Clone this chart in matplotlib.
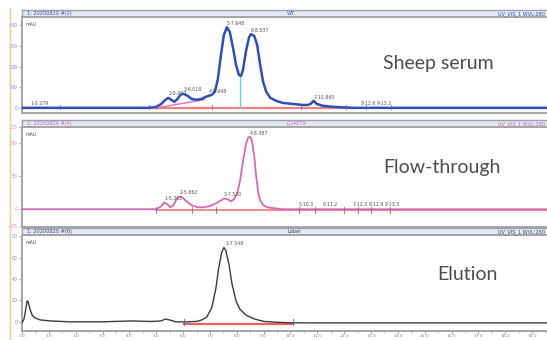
import matplotlib
matplotlib.use("Agg")
import matplotlib.pyplot as plt

# ---- data (time in min, signal in mAU) ----
serum_t = [0.0, 4.74, 5.0, 5.19, 5.34, 5.45, 5.56, 5.68, 5.79, 5.90, 6.02, 6.17, 6.32, 6.50,
           6.69, 6.84, 6.95, 7.07, 7.18, 7.29, 7.41, 7.52, 7.63, 7.74, 7.86, 7.97, 8.08, 8.16,
           8.23, 8.35, 8.46, 8.53, 8.65, 8.76, 8.87, 8.98, 9.10, 9.25, 9.47, 9.70, 10.08, 10.45,
           10.64, 10.75, 10.86, 10.98, 11.20, 11.58, 12.33, 19.74]
serum_v = [0, 0, 5, 19, 39, 48, 39, 29, 43, 63, 68, 58, 43, 39,
           43, 53, 58, 63, 77, 135, 256, 353, 391, 367, 290, 208, 159, 155,
           184, 280, 343, 357, 348, 304, 208, 126, 77, 48, 34, 24, 19, 14,
           14, 19, 34, 19, 10, 5, 0, 0]

flow_t = [0.0, 5.0, 5.19, 5.30, 5.41, 5.53, 5.64, 5.75, 5.86, 5.98, 6.13, 6.32, 6.54, 6.77,
          6.99, 7.22, 7.41, 7.52, 7.67, 7.78, 7.89, 8.01, 8.12, 8.23, 8.35, 8.42, 8.50, 8.57,
          8.65, 8.72, 8.80, 8.87, 8.98, 9.14, 9.40, 9.70, 19.74]
flow_v = [0, 0, 4.5, 10.4, 7.5, 3, 6, 15, 19.4, 17.9, 11.9, 6, 3, 3,
          4.5, 8.9, 13.4, 16.4, 15, 11.9, 15, 23.8, 43, 73, 100, 109, 110, 103,
          80, 51, 25, 13.4, 6, 3, 1.5, 0, 0]

elu_t = [0.0, 0.075, 0.15, 0.19, 0.23, 0.30, 0.38, 0.49, 0.68, 1.05, 1.80, 2.93, 4.06, 4.81,
         5.19, 5.34, 5.49, 5.75, 6.05, 6.50, 6.69, 6.88, 7.07, 7.22, 7.33, 7.44, 7.52, 7.59,
         7.71, 7.82, 7.97, 8.12, 8.35, 8.65, 9.02, 9.51, 10.08, 19.74]
elu_v = [-0.9, 2.7, 13.3, 19.6, 18.7, 11.6, 6.2, 3.6, 1.8, 0.9, 0, 0, 0.9, 0.4,
         0.9, 2.7, 1.8, 0, 0, 0.4, 1.8, 4.4, 13.3, 31.1, 50.7, 64.9, 69.3, 66.7,
         53.3, 35.6, 19.6, 11.6, 6.2, 2.7, 0.4, -0.4, -0.9, -0.9]

# peak labels: (time, label height, text)
serum_peaks = [(0.3, 8, "1-0.279"), (5.45, 55, "2-5.452"), (6.02, 75, "3-6.018"),
               (6.95, 65, "4-6.948"), (7.63, 398, "5-7.648"), (8.53, 364, "6-8.537"),
               (10.86, 40, "7-10.860"), (12.6, 8, "8-12.6"), (13.2, 8, "9-13.2")]
flow_peaks = [(5.30, 13, "1-5.302"), (5.86, 22, "2-5.862"), (7.52, 19, "3-7.520"),
              (8.50, 112, "4-8.487"), (10.3, 3, "5-10.3"), (11.2, 3, "6-11.2"),
              (12.3, 3, "7-12.3"), (12.9, 3, "8-12.9"), (13.5, 3, "9-13.5")]
elu_peaks = [(7.57, 71, "1-7.548")]

x_ticks = list(range(0, 20))
x_labels = ["%.1f" % v for v in x_ticks]

panel_names = ["Sheep serum", "Flow-through", "Elution"]

W, H = 547, 340
fig = plt.figure(figsize=(W / 100, H / 100), dpi=100)


def ax_px(left, top, width, height):
    return fig.add_axes([left / W, 1 - (top + height) / H, width / W, height / H])


def header(top, color, left_txt, mid_txt, right_txt):
    hx = ax_px(22, top, 530, 7)
    hx.set_facecolor("#e2e9f3")
    hx.set_xticks([])
    hx.set_yticks([])
    for s in hx.spines.values():
        s.set_color("#9aa2ad")
        s.set_linewidth(1.0)
    hx.text(0.01, 0.45, left_txt, fontsize=3.6, color=color, va="center", transform=hx.transAxes)
    hx.text(0.50, 0.45, mid_txt, fontsize=3.6, color=color, va="center", transform=hx.transAxes)
    fig.text(545 / W, 1 - (top + 3.8) / H, right_txt, fontsize=3.6, color=color,
             va="center", ha="right")


def panel(top, height, ylim, yticks, tick_color, show_x):
    ax = ax_px(22, top, 530, height)
    ax.set_xlim(0, 19.74)
    ax.set_ylim(*ylim)
    ax.set_yticks(yticks)
    ax.tick_params(axis="y", labelsize=3.4, labelcolor=tick_color, color="#999999",
                   length=2, width=0.6, pad=1)
    if show_x:
        ax.set_xticks(x_ticks)
        ax.set_xticklabels(x_labels)
        ax.set_xticks([v + 0.5 for v in x_ticks], minor=True)
        ax.tick_params(axis="x", labelsize=3.2, labelcolor="#8a8a8a", color="#999999",
                       length=1.8, width=0.6, pad=0.6)
        ax.tick_params(axis="x", which="minor", length=1.2, width=0.5, color="#aaaaaa")
    else:
        ax.set_xticks([])
    for s in ax.spines.values():
        s.set_color("#a4a4a4")
        s.set_linewidth(1.4)
    ax.text(0.006, 0.95, "mAU", fontsize=3.4, color="#555555", va="top", transform=ax.transAxes)
    return ax


# orange ruler on the far left
fig.add_artist(plt.Line2D([10 / W, 10 / W], [0, 1 - 8 / H], color="#f4c890", lw=1.0))

# ---- panel 1 : sheep serum ----
header(10, "#3552c0", "1: 20200820 #(2)", "WT", "UV_VIS_1 WVL:280")
ax1 = panel(17, 96, (-25, 440), [0, 100, 200, 300, 400], "#6a86d0", False)
ax1.plot([0, 12.4], [-3, -3], color="#f08080", lw=1.6, zorder=1)
ax1.plot([5.0, 6.8], [0, 40], color="#e070c0", lw=1.0, zorder=2)
ax1.plot([8.12, 8.12], [0, 155], color="#6cc8e0", lw=1.0, zorder=2)
ax1.plot(serum_t, serum_v, color="#2f4fb2", lw=1.8, zorder=3)
for t, y, lab in serum_peaks:
    ax1.text(t, y, lab, fontsize=3.4, color="#555555", ha="left", va="bottom")
for t in [1.43, 4.74, 5.0, 7.07, 10.4, 12.07, 12.8, 13.76]:
    ax1.plot([t, t], [-8, 12], color="#5070c8", lw=0.6, zorder=4)
fig.text(383 / W, 1 - 64 / H, panel_names[0], fontsize=14, color="#4d4d4d", family="Lato",
         va="center", ha="left")

# ---- panel 2 : flow-through ----
header(120, "#d060b0", "1: 20200820 #(4)", "(1)4879", "UV_VIS_1 WVL:280")
ax2 = panel(127, 100, (-27, 122), [-25, 0, 50, 100, 125], "#e080c0", False)
ax2.plot([5.0, 19.74], [-1, -1], color="#f08a8a", lw=1.4, zorder=1)
ax2.plot(flow_t, flow_v, color="#d468b6", lw=1.3, zorder=3)
for t, y, lab in flow_peaks:
    ax2.text(t, y, lab, fontsize=3.4, color="#555555", ha="left", va="bottom")
for t in [5.0, 6.32, 7.22, 10.3, 10.9, 12.0, 12.5, 13.0, 13.7]:
    ax2.plot([t, t], [-5, 4], color="#7070c0", lw=0.6, zorder=4)
fig.text(383 / W, 1 - 167 / H, panel_names[1], fontsize=14, color="#4d4d4d", family="Lato",
         va="center", ha="left")

# ---- panel 3 : elution ----
header(228, "#404868", "1: 20200820 #(6)", "Label", "UV_VIS_1 WVL:280")
ax3 = panel(235, 96, (-8.5, 81), [0, 20, 40, 60, 80], "#909090", True)
ax3.plot([6.05, 10.08], [-2.2, -2.2], color="#f06060", lw=1.6, zorder=1)
ax3.plot(elu_t, elu_v, color="#3c3c3c", lw=1.0, zorder=3)
for t, y, lab in elu_peaks:
    ax3.text(t, y, lab, fontsize=3.4, color="#555555", ha="left", va="bottom")
for t in [6.05, 10.08]:
    ax3.plot([t, t], [-3, 3], color="#5060c0", lw=0.6, zorder=4)
fig.text(498 / W, 1 - 275 / H, panel_names[2], fontsize=14, color="#4d4d4d", family="Lato",
         va="center", ha="right")

fig.savefig("out.png", dpi=100)
